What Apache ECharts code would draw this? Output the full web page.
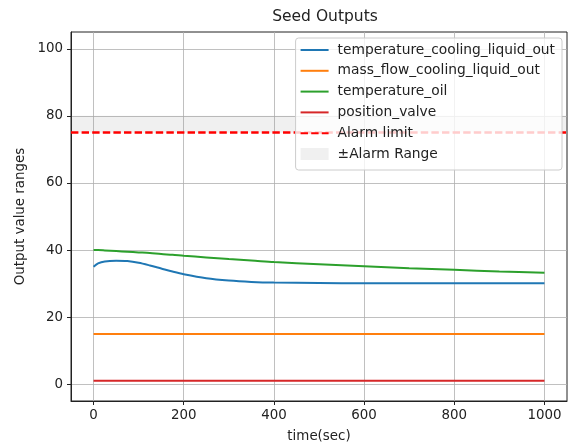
<!DOCTYPE html>
<html>
<head>
<meta charset="utf-8">
<script src="https://cdn.jsdelivr.net/npm/echarts@6/dist/echarts.min.js"></script>
<style>
    html, body { margin: 0; padding: 0; background: #fff; }
    #chart { width: 571px; height: 448px; }
</style>
</head>
<body>
<div id="chart"></div>
<script>
// 时间点（秒）
const times = [0, 10, 25, 50, 75, 100, 125, 150, 175, 200, 250, 300, 350, 400, 500, 600, 700, 800, 900, 1000];
// 各输出量
const tempCoolingOut = [35.0, 36.0, 36.6, 36.8, 36.7, 36.2, 35.4, 34.5, 33.6, 32.8, 31.6, 30.9, 30.5, 30.3, 30.2, 30.1, 30.1, 30.1, 30.1, 30.1];
const massFlowOut = [15, 15, 15, 15, 15, 15, 15, 15, 15, 15, 15, 15, 15, 15, 15, 15, 15, 15, 15, 15];
const tempOil = [40.0, 40.0, 39.9, 39.7, 39.5, 39.3, 39.1, 38.8, 38.6, 38.3, 37.8, 37.3, 36.9, 36.4, 35.8, 35.2, 34.6, 34.1, 33.6, 33.2];
const positionValve = [1, 1, 1, 1, 1, 1, 1, 1, 1, 1, 1, 1, 1, 1, 1, 1, 1, 1, 1, 1];
const alarmLimit = 75;
const alarmRange = [75, 80];
const xTicks = [0, 200, 400, 600, 800, 1000];
const yTicks = [0, 20, 40, 60, 80, 100];

document.addEventListener("DOMContentLoaded", function () {
    let chart = echarts.init(document.getElementById("chart"));
    const font = "DejaVu Sans";

    function pairs(values) {
        return times.map((t, i) => [t, values[i]]);
    }

    function lineSeries(name, values, color) {
        return {
            name: name,
            type: "line",
            data: pairs(values),
            symbol: "none",
            smooth: 0.3,
            lineStyle: { color: color, width: 2 },
            itemStyle: { color: color },
            z: 3
        };
    }

    let option = {
        animation: false,
        title: {
            text: "Seed Outputs",
            left: 320,
            textAlign: "center",
            top: 4,
            textStyle: { fontFamily: font, fontSize: 15.5, fontWeight: "normal", color: "#222" }
        },
        grid: { left: 71, right: 4, top: 32, bottom: 45, show: true, borderColor: "#222", borderWidth: 1 },
        legend: {
            orient: "vertical",
            right: 9,
            top: 38,
            z: 10,
            padding: [5, 7, 9, 4],
            itemWidth: 28,
            itemHeight: 12,
            itemGap: 6.8,
            backgroundColor: "rgba(255,255,255,0.8)",
            borderColor: "#cccccc",
            borderWidth: 1,
            borderRadius: 3,
            // 隐藏图例中线条上的圆点
            itemStyle: { color: "rgba(0,0,0,0)", borderWidth: 0 },
            textStyle: { fontFamily: font, fontSize: 13.8, color: "#222", padding: [0, 0, 0, 4] },
            data: [
                "temperature_cooling_liquid_out",
                "mass_flow_cooling_liquid_out",
                "temperature_oil",
                "position_valve",
                "Alarm limit",
                { name: "±Alarm Range", icon: "rect", itemStyle: { color: "rgba(128,128,128,0.12)" } }
            ]
        },
        xAxis: {
            type: "value",
            min: -50,
            max: 1050,
            name: "time(sec)",
            nameLocation: "middle",
            nameGap: 29,
            nameTextStyle: { fontFamily: font, fontSize: 13.4, color: "#222" },
            axisLine: { onZero: false, lineStyle: { color: "#222" } },
            axisTick: { show: true, length: 4, customValues: xTicks, lineStyle: { color: "#222" } },
            axisLabel: { customValues: xTicks, formatter: v => String(v), margin: 8, fontFamily: font, fontSize: 13.4, color: "#222" },
            splitLine: { show: true, lineStyle: { color: "#b0b0b0", width: 0.8 } }
        },
        yAxis: {
            type: "value",
            min: -5,
            max: 105,
            name: "Output value ranges",
            nameLocation: "middle",
            nameGap: 44,
            nameTextStyle: { fontFamily: font, fontSize: 13.4, color: "#222" },
            axisLine: { show: true, onZero: false, lineStyle: { color: "#222" } },
            axisTick: { show: true, length: 4, customValues: yTicks, lineStyle: { color: "#222" } },
            axisLabel: { customValues: yTicks, formatter: v => String(v), margin: 8, fontFamily: font, fontSize: 13.4, color: "#222" },
            splitLine: { show: true, lineStyle: { color: "#b0b0b0", width: 0.8 } }
        },
        series: [
            lineSeries("temperature_cooling_liquid_out", tempCoolingOut, "#1f77b4"),
            lineSeries("mass_flow_cooling_liquid_out", massFlowOut, "#ff7f0e"),
            lineSeries("temperature_oil", tempOil, "#2ca02c"),
            lineSeries("position_valve", positionValve, "#d62728"),
            {
                name: "Alarm limit",
                type: "line",
                data: [],
                symbol: "none",
                lineStyle: { color: "#ff0000", width: 2.5, type: [7.4, 3.2] },
                itemStyle: { color: "#ff0000" },
                markLine: {
                    silent: true,
                    symbol: "none",
                    label: { show: false },
                    lineStyle: { color: "#ff0000", width: 2.5, type: [7.4, 3.2] },
                    data: [{ yAxis: alarmLimit }]
                },
                z: 2
            },
            {
                name: "±Alarm Range",
                type: "line",
                data: [],
                symbol: "none",
                itemStyle: { color: "rgba(128,128,128,0.12)" },
                markArea: {
                    silent: true,
                    itemStyle: { color: "rgba(128,128,128,0.12)" },
                    data: [[{ yAxis: alarmRange[0] }, { yAxis: alarmRange[1] }]]
                },
                z: 1
            }
        ]
    };

    chart.setOption(option);
});
</script>
</body>
</html>
